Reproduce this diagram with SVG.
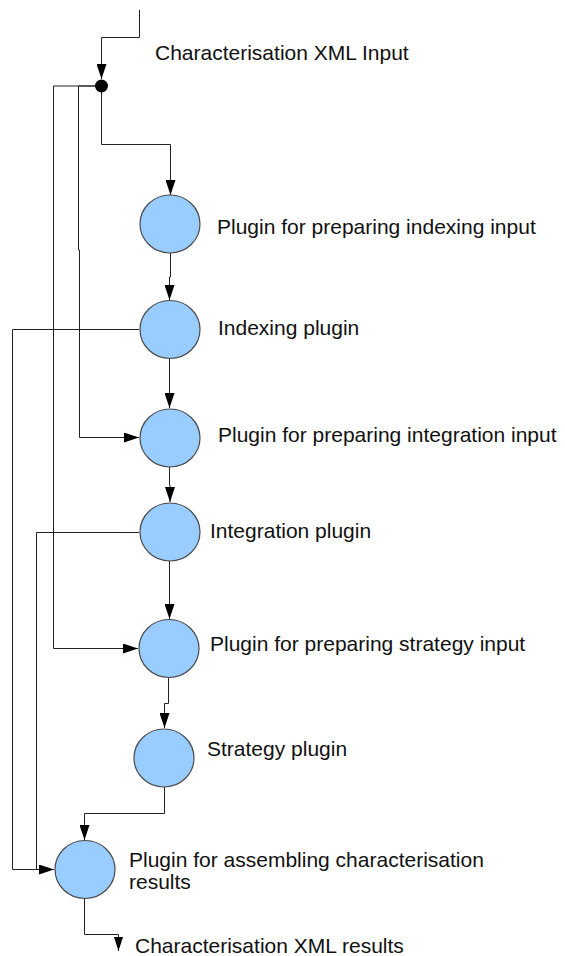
<svg xmlns="http://www.w3.org/2000/svg" width="565" height="956" viewBox="0 0 565 956">
  <style>
    .wire { fill: none; stroke: #222; stroke-width: 1; }
    .node { fill: #99ccff; stroke: #4a4a4a; stroke-width: 1.2; }
    .label { font-family: "Liberation Sans", Arial, sans-serif; font-size: 21px; fill: #111; }
  </style>
  <defs>
    <marker id="arrow" markerUnits="userSpaceOnUse" markerWidth="15" markerHeight="10" refX="15" refY="5" orient="auto">
      <path d="M0,0 L15,5 L0,10 z" fill="#000"/>
    </marker>
    <marker id="arrow-small" markerUnits="userSpaceOnUse" markerWidth="14" markerHeight="9" refX="14" refY="4.5" orient="auto">
      <path d="M0,0 L14,4.5 L0,9 z" fill="#000"/>
    </marker>
  </defs>

  <g id="connectors">
    <!-- input feed into the junction -->
    <path class="wire" d="M139.5,10 V37.5 H101.5 V79" marker-end="url(#arrow)"/>
    <!-- junction fan-out -->
    <path class="wire" d="M101.5,86 V144.5 H170.5 V195" marker-end="url(#arrow)"/>
    <path class="wire" d="M101.5,86 H78.5 V250 H79.5 V437.5 H139" marker-end="url(#arrow)"/>
    <path class="wire" d="M101.5,86 H53.5 V648.5 H138" marker-end="url(#arrow)"/>
    <!-- main chain -->
    <path class="wire" d="M170.5,253 V277 H169.5 V300" marker-end="url(#arrow)"/>
    <path class="wire" d="M169.5,359 V408" marker-end="url(#arrow)"/>
    <path class="wire" d="M169.5,467 V485 H170 V502" marker-end="url(#arrow)"/>
    <path class="wire" d="M169.5,561 V619" marker-end="url(#arrow)"/>
    <path class="wire" d="M168.5,678 V703.5 H164.5 V728" marker-end="url(#arrow)"/>
    <path class="wire" d="M164.5,787 V813.5 H84.5 V840" marker-end="url(#arrow)"/>
    <!-- side feeds into the assembler -->
    <path class="wire" d="M139,329.5 H12.5 V869.5 H54" marker-end="url(#arrow)"/>
    <path class="wire" d="M139,532.5 H36.5 V869.5"/>
    <!-- output -->
    <path class="wire" d="M84.5,899 V934.5 H118.5 V951" marker-end="url(#arrow-small)"/>
    <circle cx="101.5" cy="86" r="6.5" fill="#000"/>
  </g>

  <text class="label" x="155" y="60">Characterisation XML Input</text>

  <g id="prep-indexing">
    <ellipse class="node" cx="170" cy="224" rx="30" ry="29"/>
    <text class="label" x="217" y="234">Plugin for preparing indexing input</text>
  </g>
  <g id="indexing">
    <ellipse class="node" cx="170" cy="329.5" rx="30" ry="29"/>
    <text class="label" x="218" y="335">Indexing plugin</text>
  </g>
  <g id="prep-integration">
    <ellipse class="node" cx="170" cy="438" rx="30" ry="29"/>
    <text class="label" x="218" y="442">Plugin for preparing integration input</text>
  </g>
  <g id="integration">
    <ellipse class="node" cx="170" cy="532" rx="30" ry="29"/>
    <text class="label" x="210" y="538">Integration plugin</text>
  </g>
  <g id="prep-strategy">
    <ellipse class="node" cx="169" cy="648.5" rx="30" ry="29"/>
    <text class="label" x="210" y="651">Plugin for preparing strategy input</text>
  </g>
  <g id="strategy">
    <ellipse class="node" cx="164" cy="758" rx="30" ry="29"/>
    <text class="label" x="207" y="756">Strategy plugin</text>
  </g>
  <g id="assembling">
    <ellipse class="node" cx="85" cy="869.5" rx="30" ry="29"/>
    <text class="label" x="129" y="867">Plugin for assembling characterisation</text>
    <text class="label" x="129" y="889">results</text>
  </g>

  <text class="label" x="135" y="953">Characterisation XML results</text>
</svg>
